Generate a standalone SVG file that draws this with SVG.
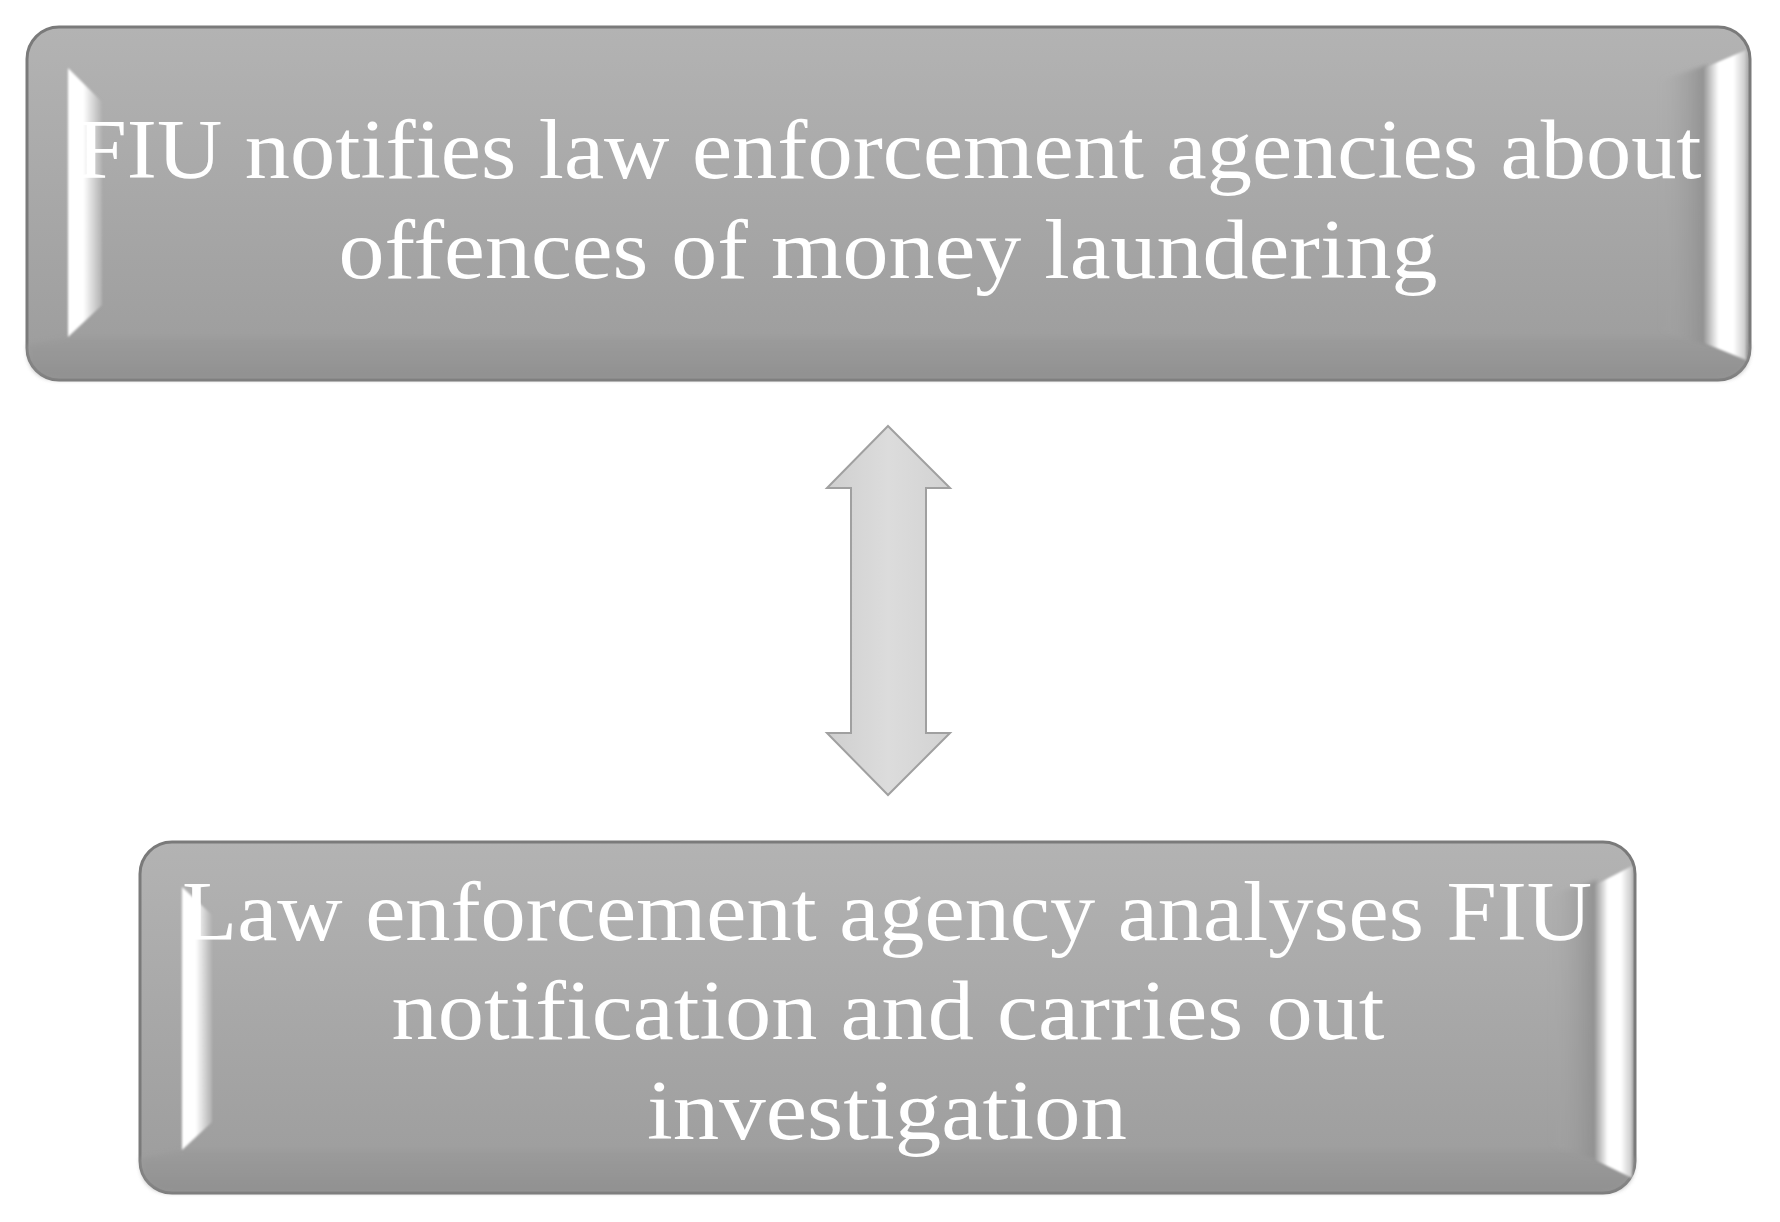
<svg xmlns="http://www.w3.org/2000/svg" width="1780" height="1222" viewBox="0 0 1780 1222">
<defs>
<linearGradient id="face" x1="0" y1="0" x2="0" y2="1">
<stop offset="0" stop-color="#b3b3b3"/>
<stop offset="1" stop-color="#9c9c9c"/>
</linearGradient>
<linearGradient id="lbev" x1="0" y1="0" x2="1" y2="0">
<stop offset="0" stop-color="#ffffff"/>
<stop offset="0.45" stop-color="#ffffff"/>
<stop offset="1" stop-color="#b0b0b0"/>
</linearGradient>
<linearGradient id="rbev" x1="0" y1="0" x2="1" y2="0">
<stop offset="0" stop-color="#9a9a9a"/>
<stop offset="0.35" stop-color="#ffffff"/>
<stop offset="0.7" stop-color="#ffffff"/>
<stop offset="1" stop-color="#c8c8c8"/>
</linearGradient>
<linearGradient id="rshade" x1="0" y1="0" x2="1" y2="0">
<stop offset="0" stop-color="#a8a8a8" stop-opacity="0"/>
<stop offset="1" stop-color="#8f8f8f"/>
</linearGradient>
<linearGradient id="bshade" x1="0" y1="0" x2="0" y2="1">
<stop offset="0" stop-color="#9a9a9a"/>
<stop offset="1" stop-color="#8a8a8a"/>
</linearGradient>
<linearGradient id="arr" x1="0" y1="0" x2="1" y2="0">
<stop offset="0" stop-color="#cfcfcf"/>
<stop offset="0.5" stop-color="#dcdcdc"/>
<stop offset="1" stop-color="#d2d2d2"/>
</linearGradient>
<filter id="soft" x="-20%" y="-20%" width="140%" height="140%">
<feGaussianBlur stdDeviation="2"/>
</filter>
<filter id="soft1" x="-20%" y="-20%" width="140%" height="140%">
<feGaussianBlur stdDeviation="1"/>
</filter>
<style>
.outer{fill:url(#face);stroke:#7a7a7a;stroke-width:3}
.lb{fill:url(#lbev)}
.rb{fill:url(#rbev)}
.bs{fill:url(#bshade);opacity:0.6}
.lbl{font-family:"Palatino Linotype","Book Antiqua",Palatino,"Liberation Serif","DejaVu Serif",serif;font-size:84px;fill:#ffffff;text-anchor:middle}
.arrow{fill:url(#arr);stroke:#a0a0a0;stroke-width:2}
</style>
</defs>
<g id="node-top">
<rect class="outer" x="27" y="27" width="1723" height="353" rx="32" ry="32"/>
<path d="M 27 345 L 68 337 L 1707 337 L 1750 345 L 1750 348 Q 1750 380 1718 380 L 59 380 Q 27 380 27 348 Z" class="bs" filter="url(#soft)"/>
<polygon points="1660,80 1707,65 1707,345 1660,330" fill="url(#rshade)" filter="url(#soft)"/>
<polygon class="lb" points="68,68 102,102 102,305 68,337" filter="url(#soft1)"/>
<polygon class="rb" points="1704,68 1746,50 1746,360 1704,343" filter="url(#soft1)"/>
<text class="lbl" x="889" y="178" textLength="1625" lengthAdjust="spacingAndGlyphs">FIU notifies law enforcement agencies about</text>
<text class="lbl" x="888" y="278" textLength="1099" lengthAdjust="spacingAndGlyphs">offences of money laundering</text>
</g>
<g id="node-bottom">
<rect class="outer" x="140" y="842" width="1495" height="351" rx="32" ry="32"/>
<path d="M 140 1158 L 182 1150 L 1597 1150 L 1635 1158 L 1635 1161 Q 1635 1193 1603 1193 L 172 1193 Q 140 1193 140 1161 Z" class="bs" filter="url(#soft)"/>
<polygon points="1550,895 1597,880 1597,1160 1550,1145" fill="url(#rshade)" filter="url(#soft)"/>
<polygon class="lb" points="182,887 212,915 212,1122 182,1150" filter="url(#soft1)"/>
<polygon class="rb" points="1595,885 1632,866 1632,1178 1595,1160" filter="url(#soft1)"/>
<text class="lbl" x="887" y="940" textLength="1410" lengthAdjust="spacingAndGlyphs">Law enforcement agency analyses FIU</text>
<text class="lbl" x="888" y="1039" textLength="993" lengthAdjust="spacingAndGlyphs">notification and carries out</text>
<text class="lbl" x="887" y="1139" textLength="480" lengthAdjust="spacingAndGlyphs">investigation</text>
</g>
<g id="connectors">
<polygon class="arrow" points="888,426 950,488 926,488 926,733 950,733 888,795 827,733 851,733 851,488 827,488"/>
</g>
</svg>
